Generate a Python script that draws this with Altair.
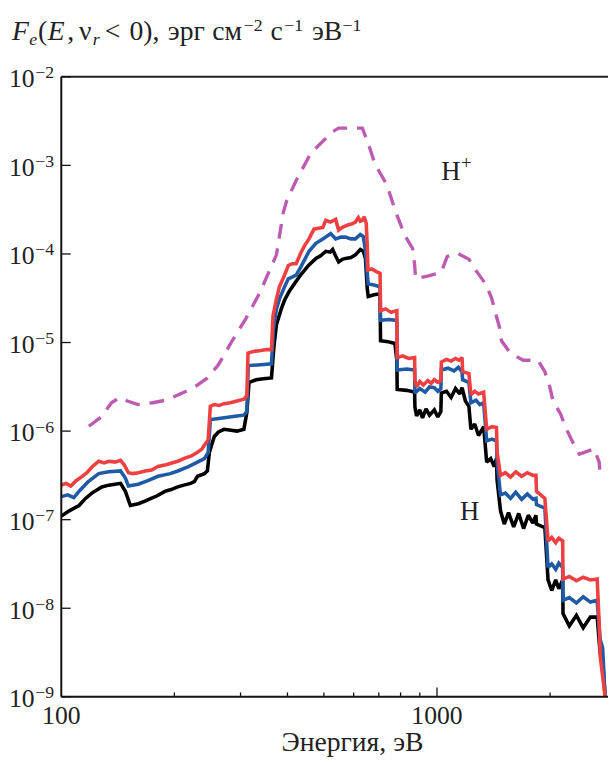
import altair as alt
import pandas as pd

# ---------------- data (energies in eV, flux as log10 of erg cm^-2 s^-1 eV^-1) -------------
red_E = [100, 103, 106, 109.5, 113, 117, 121, 125.8, 130, 134, 139, 143.8, 147, 150.9, 155, 160.3,
         167.2, 174, 180.9, 190, 204.2, 215, 222, 230.4, 237, 240.4, 246, 249.3, 255, 263, 271.3, 282,
         293.5, 306.2, 311.8, 314, 325, 340, 352, 362.6, 366, 373.8, 380.6, 392, 402, 412, 421.9, 434.9,
         445, 456.4, 470.4, 483, 496.7, 505.8, 520, 537.3, 547.2, 560, 581.3, 595, 606.4, 617.5, 625,
         632.7, 640, 648, 652.2, 655, 670, 690, 705.5, 707.5, 730, 755, 781.9, 783.5, 810, 840, 871.8,
         873.5, 882.3, 900, 920, 945, 965, 983.8, 1005, 1024, 1027, 1060, 1090, 1120, 1145, 1166, 1170,
         1216, 1231, 1260, 1290, 1331, 1356, 1400, 1440, 1445, 1476, 1520, 1570, 1620, 1680, 1740, 1800,
         1834, 1840, 1937, 1975, 2020, 2070, 2110, 2160, 2165, 2250, 2350, 2450, 2560, 2669, 2702, 2718,
         2801, 2840]
red_lgF = [-6.61, -6.59, -6.62, -6.56, -6.52, -6.47, -6.40, -6.34, -6.36, -6.34, -6.35, -6.33, -6.38,
           -6.47, -6.48, -6.47, -6.45, -6.44, -6.40, -6.38, -6.34, -6.30, -6.28, -6.24, -6.20, -6.16,
           -6.10, -5.72, -5.70, -5.71, -5.69, -5.68, -5.66, -5.64, -5.60, -5.12, -5.10, -5.09, -5.08,
           -5.08, -4.70, -4.51, -4.37, -4.25, -4.13, -4.11, -4.11, -3.98, -3.90, -3.83, -3.72, -3.71,
           -3.70, -3.62, -3.64, -3.61, -3.73, -3.70, -3.67, -3.66, -3.64, -3.59, -3.63, -3.62, -3.58,
           -3.65, -3.90, -4.18, -4.17, -4.20, -4.22, -4.64, -4.62, -4.66, -4.64, -5.17, -5.15, -5.18,
           -5.17, -5.43, -5.50, -5.44, -5.48, -5.43, -5.46, -5.42, -5.45, -5.43, -5.22, -5.19, -5.21,
           -5.18, -5.20, -5.17, -5.33, -5.35, -5.59, -5.55, -5.58, -5.56, -5.98, -5.95, -5.96, -6.24,
           -6.50, -6.47, -6.52, -6.46, -6.51, -6.47, -6.50, -6.50, -6.68, -6.76, -7.24, -7.20, -7.26,
           -7.21, -7.24, -7.67, -7.64, -7.69, -7.65, -7.68, -7.67, -8.17, -8.54, -8.99, -9.10]

blue_E = [100, 104, 108, 112, 118, 125.8, 133.7, 143.8, 148.1, 150.9, 160.3, 170, 180.9, 195, 204.2,
          218, 230.4, 240.4, 246, 249.3, 260, 271.3, 293.5, 306.2, 311.8, 314.5, 340, 362.6, 367, 373.8,
          380.6, 392, 402, 421.9, 434.9, 456.4, 476, 496.7, 521.3, 537.3, 555, 570.8, 590, 606.4, 625.1,
          636, 644.2, 650, 656.1, 680, 705.5, 707.5, 745, 781.9, 783.5, 830, 871.8, 873.5, 900, 930, 955,
          983.8, 1005, 1024, 1027, 1070, 1110, 1140, 1166, 1170, 1216, 1231, 1270, 1300, 1331, 1356,
          1400, 1440, 1445, 1476, 1520, 1570, 1620, 1680, 1740, 1800, 1834, 1840, 1937, 1975, 2020,
          2070, 2110, 2160, 2165, 2250, 2350, 2450, 2560, 2669, 2718, 2760, 2801, 2840]
blue_lgF = [-6.74, -6.72, -6.75, -6.67, -6.57, -6.48, -6.46, -6.45, -6.53, -6.62, -6.60, -6.56, -6.51,
            -6.48, -6.45, -6.40, -6.35, -6.31, -6.24, -5.87, -5.86, -5.85, -5.83, -5.82, -5.78, -5.26,
            -5.25, -5.24, -4.85, -4.62, -4.51, -4.38, -4.28, -4.24, -4.14, -3.97, -3.88, -3.83, -3.77,
            -3.83, -3.81, -3.81, -3.83, -3.83, -3.78, -3.80, -3.94, -4.15, -4.34, -4.35, -4.37, -4.75,
            -4.74, -4.75, -5.31, -5.30, -5.31, -5.57, -5.52, -5.56, -5.50, -5.51, -5.55, -5.52, -5.31,
            -5.29, -5.32, -5.28, -5.33, -5.42, -5.45, -5.68, -5.65, -5.70, -5.68, -6.11, -6.09, -6.11,
            -6.35, -6.72, -6.70, -6.76, -6.69, -6.77, -6.71, -6.77, -6.76, -6.83, -6.87, -7.54, -7.50,
            -7.56, -7.49, -7.54, -7.91, -7.88, -7.94, -7.87, -7.93, -7.91, -8.35, -8.45, -8.99, -9.10]

black_E = [100, 105, 111.5, 116, 120.6, 128.2, 133.7, 139, 143.8, 148.1, 152.7, 160.3, 167, 173.4, 180,
           188.7, 196, 204.2, 212, 220.9, 226, 230.4, 240.4, 244.8, 247.8, 255.4, 262, 271.3, 283, 293.5,
           306.2, 311.8, 316, 330, 345, 362.6, 368, 373.8, 385, 393, 404.5, 420, 434.9, 455, 476.1, 490,
           505.8, 520, 527.6, 537, 547.2, 560, 570.8, 590, 606.4, 625.1, 636.6, 645, 652.2, 656.1, 680,
           705.5, 707.5, 740, 772.5, 781.9, 783.5, 830, 871.8, 873.5, 882.3, 900, 915, 935, 955, 983.8,
           1005, 1024, 1027, 1060, 1090, 1120, 1150, 1166, 1190, 1216, 1231, 1260, 1290, 1331, 1356, 1390,
           1420, 1440, 1445, 1476, 1510, 1550, 1600, 1650, 1700, 1750, 1800, 1834, 1840, 1937, 1975, 2020,
           2070, 2110, 2160, 2165, 2250, 2350, 2450, 2560, 2669, 2718, 2760, 2801, 2840]
black_lgF = [-6.96, -6.90, -6.84, -6.76, -6.70, -6.63, -6.61, -6.60, -6.59, -6.68, -6.84, -6.82, -6.79,
             -6.76, -6.73, -6.68, -6.66, -6.63, -6.61, -6.59, -6.57, -6.51, -6.48, -6.45, -6.24, -6.06,
             -6.01, -5.98, -5.99, -6.00, -5.98, -5.79, -5.45, -5.42, -5.41, -5.40, -5.05, -4.80, -4.62,
             -4.52, -4.42, -4.32, -4.23, -4.13, -4.05, -4.02, -3.97, -3.98, -3.95, -4.02, -4.09, -4.06,
             -4.05, -4.04, -4.01, -3.95, -3.97, -4.05, -4.39, -4.48, -4.46, -4.45, -4.98, -4.99, -5.01,
             -5.20, -5.53, -5.54, -5.56, -5.73, -5.83, -5.76, -5.85, -5.75, -5.82, -5.76, -5.84, -5.78,
             -5.57, -5.55, -5.62, -5.52, -5.58, -5.51, -5.66, -5.72, -5.98, -5.92, -6.05, -5.95, -6.35,
             -6.31, -6.40, -6.31, -6.55, -6.90, -7.05, -6.92, -7.08, -6.93, -7.10, -6.95, -7.04, -6.95,
             -7.05, -7.09, -7.68, -7.80, -7.68, -7.78, -7.68, -8.06, -8.20, -8.08, -8.22, -8.10, -8.10,
             -8.51, -8.60, -8.99, -9.10]

hplus_E = [118.4, 127.4, 136, 143, 150, 160, 175, 190, 205, 225, 245, 262, 285, 310, 337.4, 373.8, 389.9,
           398, 421.9, 461.9, 490.7, 527.6, 547.2, 599.1, 632.7, 652.2, 684.5, 736, 772.5, 820.6, 861.3,
           871.8, 877, 942.9, 1026, 1064, 1131, 1216, 1276, 1348, 1398, 1432, 1467, 1485, 1568, 1696,
           1857, 1937, 1996, 2033, 2134, 2200, 2295, 2393, 2620, 2702, 2718]
hplus_lgF = [-5.945, -5.845, -5.68, -5.62, -5.66, -5.70, -5.68, -5.65, -5.59, -5.51, -5.40, -5.25, -4.98,
             -4.73, -4.44, -4.01, -3.53, -3.40, -3.17, -2.86, -2.75, -2.62, -2.58, -2.58, -2.58, -2.72,
             -2.99, -3.22, -3.50, -3.79, -3.94, -4.12, -4.28, -4.25, -4.21, -4.03, -3.99, -4.06, -4.20,
             -4.34, -4.50, -4.67, -4.83, -4.98, -5.12, -5.20, -5.20, -5.33, -5.50, -5.65, -5.81, -5.96,
             -6.12, -6.26, -6.20, -6.35, -6.50]

# axis ticks / labels
x_minor_ticks = [200, 300, 400, 500, 600, 700, 800, 900, 2000]
x_major_ticks = [1000]
x_labels = [100, 1000]
y_decades = [1e-9, 1e-8, 1e-7, 1e-6, 1e-5, 1e-4, 1e-3, 1e-2]
y_exponents = ["\u22129", "\u22128", "\u22127", "\u22126", "\u22125", "\u22124", "\u22123", "\u22122"]

# ---------------- layout ----------------
W = 554
H = 628.3
FONT = "Liberation Serif"
INK = "#222222"

xs = alt.Scale(type="log", domain=[100, 2852], nice=False)
ys = alt.Scale(type="log", domain=[1e-9, 1e-2], nice=False)


def frame(E, lg):
    return pd.DataFrame({"E": E, "F": [10 ** v for v in lg]})


def curve(E, lg, color, width=3.6, dash=None):
    kw = dict(color=color, strokeWidth=width, clip=True, strokeJoin="miter", strokeMiterLimit=2)
    if dash is not None:
        kw["strokeDash"] = dash
        kw["strokeCap"] = "butt"
    return alt.Chart(frame(E, lg)).mark_line(**kw).encode(
        x=alt.X("E:Q", scale=xs, axis=None),
        y=alt.Y("F:Q", scale=ys, axis=None),
    )


black = curve(black_E, black_lgF, "#000000")
blue = curve(blue_E, blue_lgF, "#1f5aa6")
red = curve(red_E, red_lgF, "#ee4040")
hplus = curve(hplus_E, hplus_lgF, "#bd5bb3", width=3.4, dash=[15, 10])

one = pd.DataFrame({"a": [0]})

# frame lines (left, bottom, top)
left_line = alt.Chart(one).mark_rule(color="#111", strokeWidth=2).encode(
    x=alt.value(0), y=alt.value(0), y2=alt.value(H))
bottom_line = alt.Chart(one).mark_rule(color="#111", strokeWidth=2).encode(
    x=alt.value(0), x2=alt.value(W + 2), y=alt.value(H))
top_line = alt.Chart(one).mark_rule(color="#222", strokeWidth=2).encode(
    x=alt.value(0), x2=alt.value(W + 2), y=alt.value(0))

# inward ticks
xminor = alt.Chart(pd.DataFrame({"E": x_minor_ticks})).mark_rule(color="#111", strokeWidth=1.3).encode(
    x=alt.X("E:Q", scale=xs, axis=None), y=alt.value(H - 4.5), y2=alt.value(H))
xmajor = alt.Chart(pd.DataFrame({"E": x_major_ticks})).mark_rule(color="#111", strokeWidth=1.3).encode(
    x=alt.X("E:Q", scale=xs, axis=None), y=alt.value(H - 9.5), y2=alt.value(H))
ydf = pd.DataFrame({"F": y_decades, "exp": y_exponents})
yticks = alt.Chart(ydf).mark_rule(color="#111", strokeWidth=1.3).encode(
    y=alt.Y("F:Q", scale=ys, axis=None), x=alt.value(0), x2=alt.value(9.5))

# y tick labels: "10" with superscript exponent
ylab10 = alt.Chart(ydf).mark_text(font=FONT, fontSize=26, align="right", baseline="alphabetic",
                                  dy=10.5, color=INK).encode(
    y=alt.Y("F:Q", scale=ys, axis=None), x=alt.value(-27), text=alt.value("10"))
ylabexp = alt.Chart(ydf).mark_text(font=FONT, fontSize=18, align="left", baseline="alphabetic",
                                   dy=1.5, color=INK).encode(
    y=alt.Y("F:Q", scale=ys, axis=None), x=alt.value(-26.5), text="exp:N")

# x tick labels
xlab = alt.Chart(pd.DataFrame({"E": x_labels, "t": [str(v) for v in x_labels]})).mark_text(
    font=FONT, fontSize=26, align="center", baseline="alphabetic", color=INK).encode(
    x=alt.X("E:Q", scale=xs, axis=None), y=alt.value(H + 28), text="t:N")

# axis titles and annotations (pixel offsets relative to the plot's top-left corner)
TB = -37.7      # title baseline
SUP = -46.2     # superscript baseline
SUB = -32.0     # subscript baseline
TS = 28         # title font size
SS = 18         # sub/superscript size
pieces = [
    # text, x, y, size, style, align
    ("Энергия, эВ", 295, H + 55, 28, "normal", "center"),
    ("H", 385, 104.3, 27, "normal", "left"),
    ("+", 405, 93, 19, "normal", "left"),
    ("H", 404, 449.3, 27, "normal", "left"),
    ("F", -50, TB, TS, "italic", "left"),
    ("e", -32.4, SUB, SS, "italic", "left"),
    ("(", -23.6, TB, TS, "normal", "left"),
    ("E", -13.7, TB, TS, "italic", "left"),
    (",", 6, TB, TS, "normal", "left"),
    ("\u03bd", 18, TB, TS, "normal", "left"),
    ("r", 32, SUB, SS, "italic", "left"),
    ("<", 44, TB, TS, "normal", "left"),
    ("0),", 69, TB, TS, "normal", "left"),
    ("эрг", 108, TB, TS, "normal", "left"),
    ("см", 153, TB, TS, "normal", "left"),
    ("\u22122", 185, SUP, SS, "normal", "left"),
    ("с", 212, TB, TS, "normal", "left"),
    ("\u22121", 226, SUP, SS, "normal", "left"),
    ("эВ", 254, TB, TS, "normal", "left"),
    ("\u22121", 285, SUP, SS, "normal", "left"),
]
texts = []
for t, x, y, s, st, al in pieces:
    texts.append(alt.Chart(one).mark_text(
        font=FONT, fontSize=s, fontStyle=st, align=al, baseline="alphabetic", color=INK).encode(
        x=alt.value(x), y=alt.value(y), text=alt.value(t)))

chart = alt.layer(
    hplus, black, blue, red,
    left_line, bottom_line, top_line, xminor, xmajor, yticks,
    ylab10, ylabexp, xlab, *texts
).properties(
    width=W, height=H,
    padding={"left": 54, "top": 64.7, "right": 0, "bottom": 60},
    autosize=alt.AutoSizeParams(type="none"),
).configure_view(strokeWidth=0)

chart.save("out.html", embed_options={"renderer": "svg", "actions": False})
